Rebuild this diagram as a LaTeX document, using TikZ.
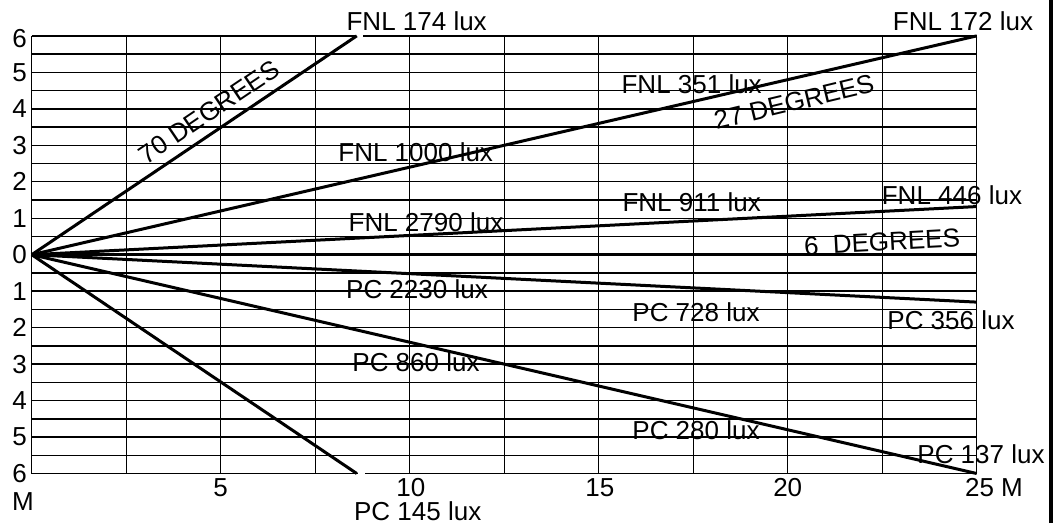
\documentclass[tikz,border=0pt]{standalone}
\usepackage{fontspec}
\setmainfont{Liberation Sans}
\begin{document}
\begin{tikzpicture}[x=18.9pt,y=18.235pt,
  lbl/.style={inner sep=0pt,font=\fontsize{13}{15}\selectfont},
  gridline/.style={line width=0.7pt},
  ray/.style={line width=1.5pt}]
\useasboundingbox (-0.8386,-7.357) rectangle (27.3095,6.984);
% grid
\foreach \y in {-6,-5.5,...,6.1} \draw[gridline] (0,\y) -- (25,\y);
\foreach \x in {0,2.5,...,25.1} \draw[gridline] (\x,-6) -- (\x,6);
\draw[line width=1.3pt] (0,0) -- (25,0);
% small gaps in the border lines
\fill[white] (8.57,5.9) rectangle (8.76,6.1);
\fill[white] (8.62,-6.1) rectangle (8.83,-5.9);
% right border bar
\draw[line width=2pt] (26.974,-7.357) -- (26.974,6.984);
% rays
\coordinate (O) at (0,0);
\coordinate (A) at (8.6,6);
\coordinate (B) at (25,6);
\coordinate (C) at (25,1.32);
\coordinate (D) at (25,-1.3);
\coordinate (E) at (25,-6);
\coordinate (F) at (8.6,-6);
\foreach \e in {A,B,C,D,E,F} \draw[ray] (O) -- (\e);
% y axis labels
\node[lbl] (y6) at (-0.323,5.92) {6};
\node[lbl] (y5) at (-0.323,5) {5};
\node[lbl] (y4) at (-0.323,4) {4};
\node[lbl] (y3) at (-0.323,3) {3};
\node[lbl] (y2) at (-0.323,2) {2};
\node[lbl] (y1) at (-0.323,1) {1};
\node[lbl] (y0) at (-0.323,0) {0};
\node[lbl] (ym1) at (-0.323,-1) {1};
\node[lbl] (ym2) at (-0.323,-2) {2};
\node[lbl] (ym3) at (-0.323,-3) {3};
\node[lbl] (ym4) at (-0.323,-4) {4};
\node[lbl] (ym5) at (-0.323,-5) {5};
\node[lbl] (ym6) at (-0.323,-6) {6};
\node[lbl] (mM) at (-0.23,-6.773) {M};
% x axis labels
\node[lbl] (x5) at (5,-6.397) {5};
\node[lbl] (x10) at (10.03,-6.397) {10};
\node[lbl] (x15) at (15.03,-6.397) {15};
\node[lbl] (x20) at (20,-6.397) {20};
\node[lbl] (x25) at (25.458,-6.397) {25 M};
% ray labels
\node[lbl] (l174) at (10.185,6.394) {FNL 174 lux};
\node[lbl] (l172) at (24.637,6.389) {FNL 172 lux};
\node[lbl] (l351) at (17.46,4.681) {FNL 351 lux};
\node[lbl,rotate=13.5] (d27) at (20.167,4.187) {27 DEGREES};
\node[lbl] (l1000) at (10.159,2.824) {FNL 1000 lux};
\node[lbl] (l446) at (24.345,1.637) {FNL 446 lux};
\node[lbl] (l911) at (17.46,1.431) {FNL 911 lux};
\node[lbl] (l2790) at (10.431,0.883) {FNL 2790 lux};
\node[lbl,rotate=3] (d6) at (22.495,0.348) {6~~DEGREES};
\node[lbl] (l2230) at (10.193,-0.954) {PC 2230 lux};
\node[lbl] (l728) at (17.574,-1.571) {PC 728 lux};
\node[lbl] (l356) at (24.32,-1.79) {PC 356 lux};
\node[lbl] (l860) at (10.167,-2.956) {PC 860 lux};
\node[lbl] (l280) at (17.574,-4.806) {PC 280 lux};
\node[lbl] (l137) at (25.114,-5.464) {PC 137 lux};
\node[lbl] (l145) at (10.212,-7.028) {PC 145 lux};
\node[lbl,rotate=34] (d70) at (4.69,3.913) {70 DEGREES};
\end{tikzpicture}
\end{document}
